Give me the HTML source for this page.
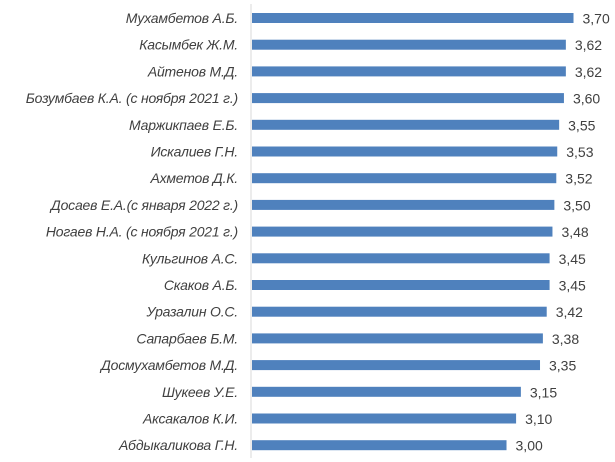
<!DOCTYPE html>
<html><head><meta charset="utf-8"><style>
body{margin:0;background:#fff;width:615px;height:462px;overflow:hidden}
svg{display:block}
.lbl{font-family:"Liberation Sans",sans-serif;font-style:italic;font-size:14px;fill:#404040;letter-spacing:-0.2px}
.val{font-family:"Liberation Sans",sans-serif;font-size:14px;fill:#404040}
</style></head><body>
<svg id="chart" width="615" height="462"></svg>
<script>
const categories=["Мухамбетов А.Б.","Касымбек Ж.М.","Айтенов М.Д.","Бозумбаев К.А. (с ноября 2021 г.)","Маржикпаев Е.Б.","Искалиев Г.Н.","Ахметов Д.К.","Досаев Е.А.(с января 2022 г.)","Ногаев Н.А. (с ноября 2021 г.)","Кульгинов А.С.","Скаков А.Б.","Уразалин О.С.","Сапарбаев Б.М.","Досмухамбетов М.Д.","Шукеев У.Е.","Аксакалов К.И.","Абдыкаликова Г.Н."];
const values=[3.70,3.62,3.62,3.60,3.55,3.53,3.52,3.50,3.48,3.45,3.45,3.42,3.38,3.35,3.15,3.10,3.00];
const valueLabels=["3,70","3,62","3,62","3,60","3,55","3,53","3,52","3,50","3,48","3,45","3,45","3,42","3,38","3,35","3,15","3,10","3,00"];
const NS="http://www.w3.org/2000/svg";
const svg=document.getElementById('chart');
const x0=251,xMin=0.33,ppu=95.7;
const xs=v=>x0+(v-xMin)*ppu;
const ys=i=>18+i*26.7;
function mk(t,a){const e=document.createElementNS(NS,t);for(const k in a)e.setAttribute(k,a[k]);svg.appendChild(e);return e;}
const ax=mk('line',{x1:x0,x2:x0,y1:4,y2:458,stroke:'#d9d9d9','stroke-width':1});


categories.forEach((c,i)=>{
  const y=ys(i);
  const r=mk('rect',{x:x0+1,y:y-5,width:xs(values[i])-x0-1,height:10,fill:'#4f81bd'});
  
  
  const t=mk('text',{x:238,y:y+5,'text-anchor':'end',class:'lbl'});t.textContent=c;
  
  
  const v=mk('text',{x:xs(values[i])+9,y:y+5.5,class:'val'});v.textContent=valueLabels[i];
  
  
});
</script>
</body></html>
